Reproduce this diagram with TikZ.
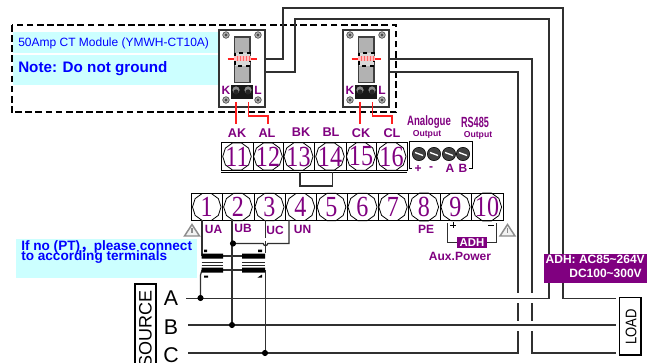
\documentclass[tikz,border=0pt]{standalone}
\usepackage{fontspec}
\setmainfont{Liberation Sans}
\newfontfamily\termfont{Liberation Serif}
\newfontfamily\cjkf{Noto Sans CJK SC}
\definecolor{pur}{HTML}{800080}
\definecolor{cy}{HTML}{CCFFFF}
\definecolor{blu}{HTML}{0000FF}
\definecolor{wire}{HTML}{303030}
\definecolor{redw}{HTML}{FF2020}
\usetikzlibrary{shapes.geometric}
\newcommand{\tnum}[1]{\makebox[0pt]{\scalebox{.95}[1.15]{#1}}}
\tikzset{
 wirel/.style={draw=wire,line width=0.9pt},
 redl/.style={draw=redw,line width=0.9pt},
 lab/.style={text=pur,font=\bfseries\fontsize{9.5}{10}\selectfont,inner sep=0pt},
 cell/.style={draw=black,line width=0.7pt},
 termnum/.style={draw=black,line width=0.6pt,regular polygon,regular polygon sides=10,minimum size=27.5*0.75pt,inner sep=0pt,text=pur,font=\termfont\fontsize{19}{19}\selectfont},
 dotn/.style={circle,fill=black,minimum size=4.6pt,inner sep=0pt},
 screw/.style={circle,draw=black,fill=black!75,minimum size=10pt,inner sep=0pt},
 txt/.style={inner sep=0pt,anchor=west},
}
\newcommand{\ctmod}[2]{%
 \begin{scope}[shift={(#1,0)}]
  \draw[draw=black!80,fill=white,line width=0.9pt] (219,30) rectangle (265,107);
  \foreach \a/\b in {226/35,258/35,226/100,258/100}{\draw[fill=black!30,draw=black!70,line width=0.5pt] (\a,\b) circle (3.3);\draw[fill=black!70,draw=none] (\a,\b) circle (1.6);}
  \draw[fill=black!30,draw=black!75,line width=0.9pt] (234.5,37) rectangle (250,82.5);
  \draw[draw=black,dashed,line width=0.8pt,fill=white!85!black] (235,53) rectangle (250,66);
  \fill[red!25] (234,56.5) rectangle (250.5,61.5);
  \foreach \x in {237,240,243,246,249}{\draw[red!60,line width=0.3pt] (\x,56.5)--(\x,61.5);}
  \draw[redw,line width=1.4pt] (227.5,59)--(234,59) (250.5,59)--(256.5,59);
  \fill[black!90] (230.5,85) rectangle (253,99);
  \fill[black!45] (236,90) circle (3.6) (248,90) circle (3.6);
  \fill[black!85] (236,92) circle (2.6) (248,92) circle (2.6);
  \draw[redl] (236,102)--(236,124);
  \draw[redl] (248.5,102)--(248.5,116)--(268,116)--(268,124);
  \node[lab,font=\bfseries\fontsize{9}{10}\selectfont] (#2K) at (226,90) {K};
  \node[lab,font=\bfseries\fontsize{9}{10}\selectfont] (#2L) at (258,90) {L};
 \end{scope}}
\begin{document}
\begin{tikzpicture}[x=0.75pt,y=-0.75pt]
\useasboundingbox (0,0) rectangle (656,363);
\fill[white] (0,0) rectangle (656,363);
% cyan panels
\fill[cy] (13,32) rectangle (218,53.5);
\fill[cy] (13,55) rectangle (218,85);
\fill[cy] (16,239) rectangle (197,278);
% dashed box
\draw[black,line width=1.5pt,dash pattern=on 5pt off 2.6pt] (11.5,25) rectangle (396,112.5);
\node[txt,text=blu,font=\fontsize{9}{9}\selectfont] (t1) at (18,43) {50Amp CT Module (YMWH-CT10A)};
\node[txt,text=blu,font=\bfseries\fontsize{11.4}{12}\selectfont] (t2) at (18,69) {Note: Do not ground};
\node[txt,text=blu,font=\bfseries\fontsize{10.2}{9}\selectfont] (t3) at (21,246.5) {If no (PT){\cjkf，}please connect};
\node[txt,text=blu,font=\bfseries\fontsize{10.2}{9}\selectfont] (t4) at (21,257.5) {to according terminals};
% wires behind
\draw[wirel] (257,59)--(283,59)--(283,8)--(563,8)--(563,298.5)--(616,298.5);
\draw[wirel] (234,59)--(227.5,59)--(227.5,72)--(295,72)--(295,19)--(549,19)--(549,298.5)--(186,298.5);
\draw[wirel] (381,59)--(532,59)--(532,293) (532,303)--(532,321) (532,331)--(532,353)--(616,353);
\draw[wirel] (358,59)--(351.5,59)--(351.5,72)--(518,72)--(518,293) (518,303)--(518,321) (518,331)--(518,353)--(188,353);
\draw[wirel] (188,325)--(616,325);
\ctmod{0}{a}
\ctmod{124}{c}
% top terminal block
\foreach \x/\n/\m in {221/253/11,253/283/12,283/314/13,314/346/14,346/376/15,376/407/16}{
 \draw[cell] (\x,142) rectangle (\n,170);
 \node[termnum] (n\m) at ({(\x+\n)/2},156.5) {\tnum{\m}};
}
\draw[cell] (221,172)--(407,172);
\draw[wirel] (300,172)--(300,186)--(332.5,186)--(332.5,172);
% analog block
\draw[cell] (409,141)--(472.5,141);
\draw[cell] (409,141)--(409,168)--(412,168) (472.5,141)--(472.5,168)--(469,168);
\foreach \x/\i in {419/a,434/b,449/c,463/d}{
 \node[screw] (s\i) at (\x,154) {};
 \draw[white,line width=1pt] (\x-4,152.5)--(\x+4,155.5);
}
\foreach \x/\s/\i in {418/+/p,431/-/m,450/A/A,463/B/B}{
 \node[lab,font=\bfseries\fontsize{9}{9}\selectfont] (o\i) at (\x,168.5) {\s};
}
% labels top
\foreach \x/\y/\s in {237/133/AK,267/133/AL,301/132/BK,331/132/BL,361/133/CK,392/133/CL}{
 \node[lab] (l\s) at (\x,\y) {\s};
}
\node[lab,font=\bfseries\fontsize{8.5}{9}\selectfont] (ana) at (429,122) {\scalebox{.85}[1.2]{Analogue}};
\node[lab,font=\bfseries\fontsize{6.5}{7}\selectfont] (ano) at (427,134) {Output};
\node[lab,font=\bfseries\fontsize{8.5}{9}\selectfont] (rs) at (475,122) {\scalebox{.8}[1.3]{RS485}};
\node[lab,font=\bfseries\fontsize{6.5}{7}\selectfont] (rso) at (478,135) {Output};
% bottom terminal block
\foreach \x/\n/\m in {191.5/222/1,222/254/2,254/285/3,285/316/4,316/347/5,347/378/6,378/408/7,408/440/8,440/471/9,471/503/10}{
 \draw[cell] (\x,193) rectangle (\n,220);
 \node[termnum] (m\m) at ({(\x+\n)/2},207) {\tnum{\m}};
}
% PT wiring
\draw[wirel] (202,220)--(202,256);
\draw[wirel] (232,220)--(232,325);
\draw[wirel] (265.5,220)--(265.5,238.5);
\draw[wirel] (265.5,241)--(265.5,253);
\draw[wirel] (289,220)--(289,243.5)--(267.7,243.5) arc[start angle=0,end angle=180,radius=2.2]--(232,243.5);
\draw[wirel] (202,270)--(200.5,275)--(200.5,298.5);
\draw[wirel] (265.5,270)--(265.5,353);
\draw[wirel] (223,256)--(242,256) (223,270)--(242,270);
\fill[black] (201.5,253.5) rectangle (223,258.5) (242,253.5) rectangle (265,258.5);
\fill[black] (201.5,267.5) rectangle (223,272.5) (242,267.5) rectangle (265,272.5);
\draw[black!85,line width=0.7pt] (201.5,262)--(223,262) (242,262)--(265,262) (201.5,265)--(223,265) (242,265)--(265,265);
\fill[black] (204,249.5) rectangle (207,252) (258,249.5) rectangle (262,252) (204,275.5) rectangle (208,277.5) (257.5,277.5)--(262,277.5)--(262,274.5)--cycle;
\node[dotn] (d1) at (233,243.5) {};
\node[dotn] (d2) at (200.5,298) {};
\node[dotn] (d3) at (232,325) {};
\node[dotn] (d4) at (265,353) {};
\foreach \x/\y/\s in {213.5/229/UA,243/228/UB,275/230/UC,302.5/229/UN,426/229/PE}{
 \node[lab,font=\bfseries\fontsize{9}{10}\selectfont] (u\s) at (\x,\y) {\s};
}
% warning triangles
\foreach \x/\i in {192/w1,507.5/w2}{
 \draw[black!45,line width=1.1pt,line join=miter,fill=black!5] (\x-7.5,236)--(\x,224.5)--(\x+7.5,236)--cycle;
 \draw[black!45,line width=0.8pt] (\x,228)--(\x,233);
}
% aux
\draw[wirel,line width=0.7pt] (447,223)--(447,242)--(458,242) (486,242)--(496,242)--(496,223);
\draw[black,line width=0.7pt] (450,225.5)--(456,225.5) (453,222.5)--(453,228.5) (488,225.5)--(494,225.5);
\node[fill=pur,text=white,font=\bfseries\fontsize{8.5}{9}\selectfont,minimum width=22pt,minimum height=8pt,inner sep=0pt] (adh) at (472,242.5) {ADH};
\node[lab,font=\bfseries\fontsize{9}{9}\selectfont] (aux) at (460,256) {Aux.Power};
\node[draw=none,fill=pur,minimum width=103*0.75pt,minimum height=29.5*0.75pt,inner sep=0pt] (adhbox) at (595.5,268.5) {};
\node[inner sep=0pt,text=white,anchor=east,font=\bfseries\fontsize{9}{9}\selectfont] (ad1) at (645,259) {ADH: AC85\textasciitilde264V};
\node[inner sep=0pt,text=white,anchor=east,font=\bfseries\fontsize{9}{9}\selectfont] (ad2) at (642,273.5) {DC100\textasciitilde300V};
% source/load
\draw[black,line width=0.9pt] (135,363)--(135,284)--(156,284)--(156,363);
\node[rotate=90,font=\fontsize{13.5}{14}\selectfont,inner sep=0pt] (src) at (145.5,329) {SOURCE};
\node[font=\fontsize{16}{16}\selectfont,inner sep=0pt] (A) at (171,298) {A};
\node[font=\fontsize{16}{16}\selectfont,inner sep=0pt] (B) at (171,327) {B};
\node[font=\fontsize{16}{16}\selectfont,inner sep=0pt] (C) at (171,355) {C};
\draw[black,line width=0.9pt] (619.5,297.5) rectangle (641,355);
\node[rotate=90,font=\fontsize{11.5}{12}\selectfont,inner sep=0pt] (load) at (631,327) {\scalebox{.85}[1]{LOAD}};
\end{tikzpicture}
\end{document}
